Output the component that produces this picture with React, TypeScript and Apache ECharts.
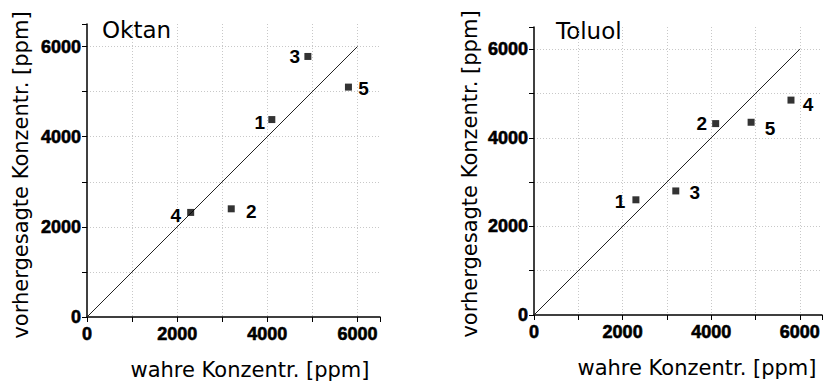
import React, { useEffect, useRef } from "react";
import * as echarts from "echarts";

// Oktan: true vs predicted concentrations [ppm]
const oktanNames = ["1", "2", "3", "4", "5"];
const oktanTrue = [4100, 3200, 4900, 2300, 5800];
const oktanPred = [4380, 2400, 5780, 2320, 5100];

// Toluol
const toluolNames = ["1", "2", "3", "4", "5"];
const toluolTrue = [2300, 4100, 3200, 5800, 4900];
const toluolPred = [2600, 4320, 2800, 4850, 4350];

const diagonal = [0, 6000];
const labelValues = [0, 2000, 4000, 6000];
const axisMax = 6500;

const titles = ["Oktan", "Toluol"];
const xName = "wahre Konzentr. [ppm]";
const yName = "vorhergesagte Konzentr. [ppm]";

// label placement (pixel offsets relative to the marker)
const oktanLabelOffsets = [[-12, 3], [20, 3], [-13, 0], [-15, 3], [15, 1]];
const toluolLabelOffsets = [[-16, 2], [-14, 0], [19, 2], [17, 4], [19, 6]];

const NUM_FONT = "Liberation Sans";
const TXT_FONT = "DejaVu Sans";

function makeAxis(gridIndex: number, isY: boolean) {
  return {
    type: "value",
    gridIndex,
    min: 0,
    max: axisMax,
    interval: 1000,
    axisLine: { show: true, onZero: false, lineStyle: { color: "#000", width: 1.5 } },
    axisTick: {
      show: true,
      inside: false,
      length: 5,
      lineStyle: { color: "#000", width: 1 },
    },
    axisLabel: {
      color: "#000",
      fontSize: 18,
      fontWeight: "bold",
      fontFamily: NUM_FONT,
      textBorderColor: "#000",
      textBorderWidth: 0.6,
      margin: isY ? 6 : 8,
      formatter: (v: number) => (labelValues.indexOf(v) >= 0 ? String(v) : ""),
    },
    splitLine: {
      show: true,
      showMinLine: false,
      showMaxLine: false,
      lineStyle: { color: "#c8c8c8", type: [1, 2], width: 1 },
    },
  };
}

function scatterSeries(
  idx: number,
  names: string[],
  xs: number[],
  ys: number[],
  offsets: number[][]
) {
  return {
    type: "scatter",
    xAxisIndex: idx,
    yAxisIndex: idx,
    symbol: "rect",
    symbolSize: 7,
    itemStyle: { color: "#000" },
    z: 5,
    data: xs.map((x, i) => ({
      value: [x, ys[i]],
      name: names[i],
      label: { offset: offsets[i] },
    })),
    label: {
      show: true,
      position: "inside",
      formatter: (p: any) => p.name,
      fontFamily: NUM_FONT,
      fontWeight: "bold",
      fontSize: 19,
      color: "#000",
      opacity: 1,
      textBorderWidth: 0,
    },
  };
}

function diagSeries(idx: number) {
  return {
    type: "line",
    xAxisIndex: idx,
    yAxisIndex: idx,
    symbol: "none",
    silent: true,
    lineStyle: { color: "#222", width: 1 },
    data: diagonal.map((v) => [v, v]),
    z: 3,
  };
}

function txt(text: string, x: number, y: number, size: number, rot = 0, align = "center") {
  return {
    type: "text",
    x,
    y,
    rotation: rot,
    style: {
      text,
      fill: "#000",
      fontFamily: TXT_FONT,
      fontSize: size,
      align,
      verticalAlign: "middle",
    },
  };
}

export default function App() {
  const ref = useRef<HTMLDivElement>(null);

  useEffect(() => {
    if (!ref.current) return;
    const chart = echarts.init(ref.current, null, { renderer: "svg" });
    chart.setOption({
      animation: false,
      backgroundColor: "#fff",
      grid: [
        { left: 87, top: 24, width: 293, height: 293, containLabel: false },
        { left: 534, top: 27, width: 288, height: 288, containLabel: false },
      ],
      xAxis: [makeAxis(0, false), makeAxis(1, false)],
      yAxis: [makeAxis(0, true), makeAxis(1, true)],
      series: [
        diagSeries(0),
        diagSeries(1),
        scatterSeries(0, oktanNames, oktanTrue, oktanPred, oktanLabelOffsets),
        scatterSeries(1, toluolNames, toluolTrue, toluolPred, toluolLabelOffsets),
      ],
      graphic: [
        txt(titles[0], 102, 30, 23, 0, "left"),
        txt(titles[1], 556, 31, 23, 0, "left"),
        txt(xName, 250, 370, 21),
        txt(xName, 697, 368, 21),
        txt(yName, 21, 175, 21, Math.PI / 2),
        txt(yName, 470, 174, 21, Math.PI / 2),
      ],
    });
    return () => chart.dispose();
  }, []);

  return (
    <div
      ref={ref}
      style={{ position: "fixed", left: 0, top: 0, width: 829, height: 386 }}
    />
  );
}
